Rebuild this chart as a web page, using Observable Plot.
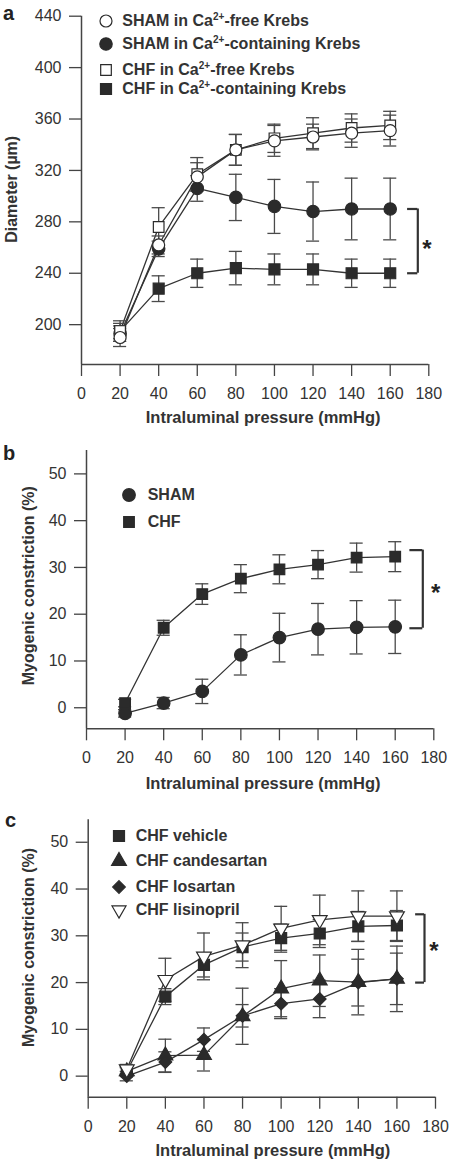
<!DOCTYPE html>
<html>
<head>
<meta charset="utf-8">
<script src="https://cdn.jsdelivr.net/npm/d3@7"></script>
<script src="https://cdn.jsdelivr.net/npm/@observablehq/plot@0.6"></script>
<style>
  body { margin: 0; background: #fff; }
  #wrap { position: relative; width: 449px; height: 1160px; overflow: hidden; font-family: "Liberation Sans", Arial, sans-serif; color: #333; }
  .panel { position: absolute; left: 0; }
  .panel svg { display: block; }
  .letter { position: absolute; font-weight: bold; font-size: 20px; line-height: 20px; color: #222; }
  .lg { position: absolute; height: 18px; line-height: 18px; font-size: 16px; font-weight: bold; white-space: nowrap; color: #333; }
  .lg sup { font-size: 10px; line-height: 0; vertical-align: 6px; }
  .sym { position: absolute; }
</style>
</head>
<body>
<div id="wrap"></div>
<script>
// ---------- shared ----------
const pressure = [20, 40, 60, 80, 100, 120, 140, 160];
const xTicks = [0, 20, 40, 60, 80, 100, 120, 140, 160, 180];
const xLabel = "Intraluminal pressure (mmHg)";

// ---------- panel a : diameter (µm) ----------
const aYTicks = [200, 240, 280, 320, 360, 400, 440];
const aYLabel = "Diameter (µm)";
const shamFreeMean = [190, 262, 315, 336, 343, 346, 349, 351];
const shamFreeErr  = [7, 7, 11, 12, 12, 10, 11, 12];
const shamCaMean   = [193, 259, 306, 299, 292, 288, 290, 290];
const shamCaErr    = [6, 6, 10, 18, 21, 23, 24, 24];
const chfFreeMean  = [195, 276, 317, 336, 345, 349, 353, 355];
const chfFreeErr   = [8, 15, 13, 12, 11, 12, 11, 11];
const chfCaMean    = [195, 228, 240, 244, 243, 243, 240, 240];
const chfCaErr     = [6, 10, 11, 13, 12, 12, 11, 11];
const aBracket = {x: 174.3, tickX: 169, top: 290, bottom: 240};
const aStar = {x: 179, y: 263};

// ---------- panel b : myogenic constriction (%) ----------
const bcYTicks = [0, 10, 20, 30, 40, 50];
const bcYLabel = "Myogenic constriction (%)";
const shamBMean = [-1.2, 1.0, 3.5, 11.3, 15.0, 16.8, 17.2, 17.3];
const shamBErr  = [0.8, 1.2, 2.6, 4.3, 5.2, 5.5, 5.7, 5.7];
const chfBMean  = [1.0, 17.1, 24.3, 27.6, 29.6, 30.6, 32.1, 32.3];
const chfBErr   = [0.8, 1.6, 2.2, 3.0, 3.1, 3.0, 3.1, 3.2];
const bBracket = {x: 174.3, tickX: 167.6, top: 33.7, bottom: 17.0};
const bStar = {x: 181, y: 25.7};

// ---------- panel c : myogenic constriction (%) ----------
const vehicleMean    = [1.0, 17.0, 23.8, 27.6, 29.5, 30.5, 32.0, 32.2];
const vehicleErr     = [0.8, 1.7, 2.6, 3.0, 3.0, 3.0, 3.2, 3.2];
const candesartanMean = [1.0, 4.4, 4.5, 12.8, 18.7, 20.4, 20.1, 20.8];
const candesartanErr  = [1.0, 3.5, 3.4, 6.0, 6.0, 5.5, 7.0, 7.0];
const losartanMean   = [0.0, 3.0, 7.8, 12.9, 15.5, 16.5, 20.0, 20.8];
const losartanErr    = [1.0, 2.2, 2.5, 2.4, 3.2, 4.0, 5.0, 5.5];
const lisinoprilMean = [1.5, 20.6, 25.6, 28.0, 31.6, 33.4, 34.2, 34.2];
const lisinoprilErr  = [1.0, 4.6, 5.0, 4.8, 4.7, 5.3, 5.4, 5.4];
const cBracket = {x: 174.3, tickX: 169.7, top: 34.6, bottom: 20.0};
const cStar = {x: 179.2, y: 27.9};

// ---------- styling ----------
const ink = "#2b2b2b";
const lineInk = "#333";
const barInk = "#4a4a4a";
const axisInk = "#444";
const capHalf = 3.4; // half width of error-bar caps, in mmHg units
const fontFamily = "'Liberation Sans', Arial, sans-serif";

const triangleDown = {
  draw(context, size) {
    const y = -Math.sqrt(size / (Math.sqrt(3) * 3));
    context.moveTo(0, -2 * y);
    context.lineTo(-Math.sqrt(3) * y, y);
    context.lineTo(Math.sqrt(3) * y, y);
    context.closePath();
  }
};

function rowsOf(means, errs) {
  return pressure.map((p, i) => ({x: p, y: means[i], e: errs[i]}));
}

function seriesLayers(list) {
  const lines = list.map(s => Plot.line(s.rows, {x: "x", y: "y", stroke: lineInk, strokeWidth: 1.3}));
  const bars = list.flatMap(s => [
    Plot.ruleX(s.rows, {x: "x", y1: d => d.y - d.e, y2: d => d.y + d.e, stroke: barInk, strokeWidth: 1.3}),
    Plot.ruleY(s.rows, {y: d => d.y + d.e, x1: d => d.x - capHalf, x2: d => d.x + capHalf, stroke: barInk, strokeWidth: 1.3}),
    Plot.ruleY(s.rows, {y: d => d.y - d.e, x1: d => d.x - capHalf, x2: d => d.x + capHalf, stroke: barInk, strokeWidth: 1.3})
  ]);
  const dots = list.map(s => Plot.dot(s.rows, {
    x: "x", y: "y", symbol: s.symbol, r: s.r,
    fill: s.filled ? ink : "white", stroke: ink, strokeWidth: 1.2
  }));
  return [...lines, ...bars, ...dots];
}

function makePanel(cfg) {
  const chart = Plot.plot({
    width: 449,
    height: cfg.height,
    marginTop: cfg.marginTop,
    marginBottom: cfg.marginBottom,
    marginLeft: cfg.marginLeft,
    marginRight: cfg.marginRight,
    x: {domain: [0, 180]},
    y: {domain: cfg.yDomain},
    style: {fontFamily, fontSize: "16px", color: "#333", background: "white", overflow: "visible"},
    marks: [
      Plot.ruleX([0], {stroke: axisInk, strokeWidth: 1.5}),
      Plot.ruleY([cfg.yDomain[0]], {stroke: axisInk, strokeWidth: 1.5}),
      Plot.axisX({ticks: xTicks, tickSize: 12, tickPadding: 11, tickFormat: d => String(d), stroke: axisInk, strokeWidth: 1.3,
        fontSize: 16, label: null}),
      Plot.axisY({ticks: cfg.yTicks, tickSize: 12, tickPadding: 8, tickFormat: d => String(d), stroke: axisInk, strokeWidth: 1.3,
        fontSize: 16, label: null}),
      // axis titles
      Plot.text([xLabel], {frameAnchor: "bottom", textAnchor: "middle", lineAnchor: "top", dx: cfg.xLabelDx, dy: cfg.xLabelDy,
        fontSize: 16.5, fontWeight: "bold", fill: "#333"}),
      Plot.text([cfg.yLabel], {frameAnchor: "left", textAnchor: "middle", lineAnchor: "top", rotate: -90, dx: cfg.yLabelDx, dy: cfg.yLabelDy,
        fontSize: 16, fontWeight: "bold", fill: "#333"}),
      ...seriesLayers(cfg.series),
      Plot.ruleX([cfg.bracket], {x: "x", y1: "top", y2: "bottom", stroke: lineInk, strokeWidth: 2.2}),
      Plot.ruleY([cfg.bracket], {y: "top", x1: "tickX", x2: "x", stroke: lineInk, strokeWidth: 2.2}),
      Plot.ruleY([cfg.bracket], {y: "bottom", x1: "tickX", x2: "x", stroke: lineInk, strokeWidth: 2.2}),
      Plot.text([cfg.star], {x: "x", y: "y", text: () => "*", fontSize: 24, fontWeight: "bold", fill: "#222", dy: 6})
    ]
  });
  const div = document.createElement("div");
  div.className = "panel";
  div.style.top = cfg.top + "px";
  div.appendChild(chart);
  return div;
}

function symbolSvg(symbolType, r, filled) {
  const size = 20;
  const path = d3.symbol(symbolType, Math.PI * r * r)();
  return `<svg width="${size}" height="${size}" viewBox="${-size/2} ${-size/2} ${size} ${size}">` +
    `<path d="${path}" fill="${filled ? ink : "white"}" stroke="${ink}" stroke-width="1.2"/></svg>`;
}

function addLegend(wrap, markerX, textX, rows) {
  rows.forEach(row => {
    const s = document.createElement("div");
    s.className = "sym";
    s.style.left = (markerX - 10) + "px";
    s.style.top = (row.y - 10) + "px";
    s.innerHTML = symbolSvg(row.symbol, row.r, row.filled);
    wrap.appendChild(s);
    const t = document.createElement("div");
    t.className = "lg";
    t.style.left = textX + "px";
    t.style.top = (row.y - 9) + "px";
    t.innerHTML = row.html;
    wrap.appendChild(t);
  });
}

function addLetter(wrap, text, left, baseline) {
  const d = document.createElement("div");
  d.className = "letter";
  d.textContent = text;
  d.style.left = left + "px";
  d.style.top = (baseline - 17) + "px";
  wrap.appendChild(d);
}

const wrap = document.getElementById("wrap");

// panel a
const aSeries = [
  {rows: rowsOf(chfCaMean, chfCaErr), symbol: "square", r: 6.2, filled: true},
  {rows: rowsOf(shamCaMean, shamCaErr), symbol: "circle", r: 6.2, filled: true},
  {rows: rowsOf(chfFreeMean, chfFreeErr), symbol: "square", r: 6.0, filled: false},
  {rows: rowsOf(shamFreeMean, shamFreeErr), symbol: "circle", r: 6.0, filled: false}
];
wrap.appendChild(makePanel({
  top: 0, height: 430, marginTop: 15.7, marginBottom: 66, marginLeft: 81, marginRight: 20.7,
  yDomain: [169, 440], yTicks: aYTicks, yLabel: aYLabel,
  yLabelDx: -76, yLabelDy: -1, xLabelDx: 8, xLabelDy: 47,
  series: aSeries, bracket: aBracket, star: aStar
}));

// panel b
const bSeries = [
  {rows: rowsOf(shamBMean, shamBErr), symbol: "circle", r: 6.3, filled: true},
  {rows: rowsOf(chfBMean, chfBErr), symbol: "square", r: 6.0, filled: true}
];
wrap.appendChild(makePanel({
  top: 430, height: 370, marginTop: 20, marginBottom: 71.7, marginLeft: 86, marginRight: 15.7,
  yDomain: [-4.5, 55], yTicks: bcYTicks, yLabel: bcYLabel,
  yLabelDx: -64, yLabelDy: -4, xLabelDx: 3, xLabelDy: 48,
  series: bSeries, bracket: bBracket, star: bStar
}));

// panel c
const cSeries = [
  {rows: rowsOf(vehicleMean, vehicleErr), symbol: "square", r: 6.2, filled: true},
  {rows: rowsOf(candesartanMean, candesartanErr), symbol: "triangle", r: 5.5, filled: true},
  {rows: rowsOf(losartanMean, losartanErr), symbol: "diamond2", r: 5.7, filled: true},
  {rows: rowsOf(lisinoprilMean, lisinoprilErr), symbol: triangleDown, r: 5.5, filled: false}
];
wrap.appendChild(makePanel({
  top: 800, height: 360, marginTop: 19.3, marginBottom: 63.3, marginLeft: 87.7, marginRight: 14,
  yDomain: [-4.5, 54.8], yTicks: bcYTicks, yLabel: bcYLabel,
  yLabelDx: -66, yLabelDy: -11, xLabelDx: 11, xLabelDy: 47.5,
  series: cSeries, bracket: cBracket, star: cStar
}));

// legends (added above the plots)
addLegend(wrap, 105.7, 122.3, [
  {y: 20.5, symbol: d3.symbolCircle, r: 6, filled: false, html: "SHAM in Ca<sup>2+</sup>-free Krebs"},
  {y: 43.5, symbol: d3.symbolCircle, r: 6.2, filled: true, html: "SHAM in Ca<sup>2+</sup>-containing Krebs"},
  {y: 69.5, symbol: d3.symbolSquare, r: 6, filled: false, html: "CHF in Ca<sup>2+</sup>-free Krebs"},
  {y: 89, symbol: d3.symbolSquare, r: 6.2, filled: true, html: "CHF in Ca<sup>2+</sup>-containing Krebs"}
]);
addLegend(wrap, 129.3, 147.7, [
  {y: 495, symbol: d3.symbolCircle, r: 6.3, filled: true, html: "SHAM"},
  {y: 521.7, symbol: d3.symbolSquare, r: 6, filled: true, html: "CHF"}
]);
addLegend(wrap, 119, 135.7, [
  {y: 835.7, symbol: d3.symbolSquare, r: 6.2, filled: true, html: "CHF vehicle"},
  {y: 860.7, symbol: d3.symbolTriangle, r: 5.5, filled: true, html: "CHF candesartan"},
  {y: 886.7, symbol: d3.symbolDiamond2, r: 5.7, filled: true, html: "CHF losartan"},
  {y: 910, symbol: triangleDown, r: 5.2, filled: false, html: "CHF lisinopril"}
]);

addLetter(wrap, "a", 3, 20);
addLetter(wrap, "b", 3, 460);
addLetter(wrap, "c", 5, 827);
</script>
</body>
</html>
